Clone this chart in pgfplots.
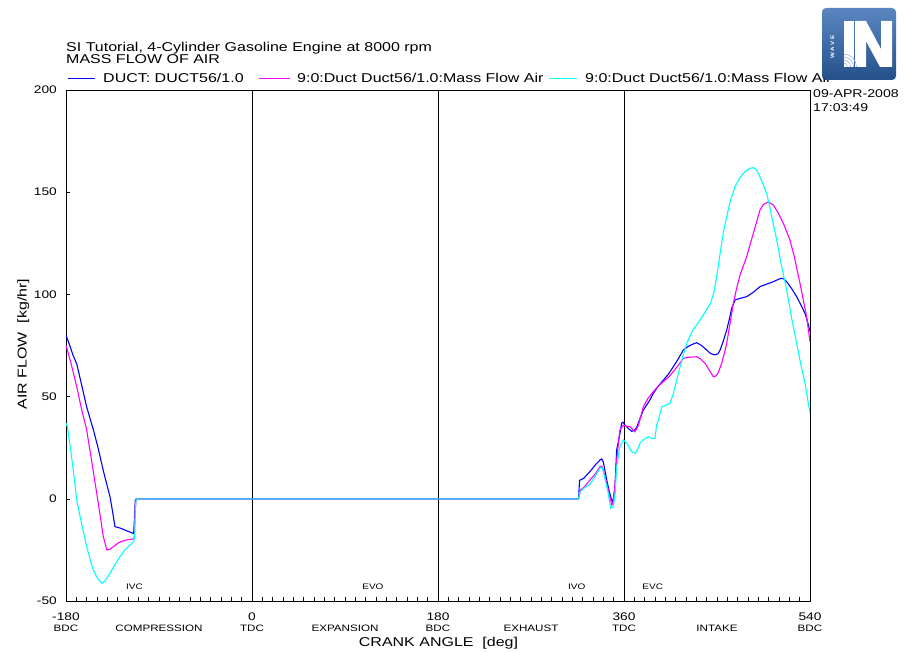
\documentclass[border=0pt]{standalone}
\usepackage{fontspec}
\setmainfont{Liberation Sans}[FakeStretch=1.25]
\usepackage{pgfplots}
\pgfplotsset{compat=1.18}
\newcommand\fA{\fontsize{12.8bp}{13bp}\selectfont}
\newcommand\fB{\fontsize{9.3bp}{10bp}\selectfont}
\newcommand\fC{\fontsize{11bp}{12bp}\selectfont}
\newcommand\fD{\fontsize{11.3bp}{12bp}\selectfont}
\newcommand\fE{\fontsize{8bp}{9bp}\selectfont}
\definecolor{logoTop}{HTML}{5A86C2}
\definecolor{logoBot}{HTML}{24508A}
\definecolor{cB}{RGB}{0,0,255}
\definecolor{cM}{RGB}{255,0,255}
\definecolor{cC}{RGB}{0,255,255}
\begin{document}
\begin{tikzpicture}
\useasboundingbox (-66bp,-52bp) rectangle (843bp,601bp);
\begin{axis}[
 at={(0,0)}, anchor=south west, scale only axis, width=744bp, height=511bp,
 xmin=-180, xmax=540, ymin=-50, ymax=200,
 xtick={-180,0,180,360,540}, xticklabels={-180,0,180,360,540},
 minor x tick num=17,
 ytick={-50,0,50,100,150,200}, yticklabels={-50,0,50,100,150,200},
 xtick pos=bottom, ytick pos=left, tick align=inside,
 major tick length=4bp, minor tick length=4bp,
 tick style={black, line width=0.6bp},
 axis line style={black, line width=0.8bp},
 xmajorgrids, major grid style={black, line width=0.8bp},
 xticklabel style={font=\fC, anchor=base, inner sep=0pt, yshift=-19bp},
 yticklabel style={font=\fC, anchor=east, inner sep=0pt, xshift=-9bp},
 every axis plot/.append style={line width=1.1bp},
]
\addplot[cB] coordinates {
(-180,80) (-177,76) (-173,70) (-169.6,66) (-165,56) (-160,45) (-156,38) (-153.6,34)
(-149,25) (-144,14) (-140,6) (-137.4,1) (-135,-6) (-132.6,-13.6) (-130,-14) (-127.7,-14.3)
(-122,-15.5) (-117,-16.5) (-114.5,-17) (-114,-12) (-113,-1) (-112,0)
(316,0) (317,9) (321,10) (327,13.3) (333,17) (336.8,19) (338.5,19.5) (340,18) (343.3,9.2)
(346,3) (348.1,-0.6) (349,-2) (350,1) (351.3,6) (352.9,24) (356.1,32) (357.7,37) (359,37.5)
(361,36) (364,34.5) (367.5,33) (370,33.5) (372.3,35) (378.7,43.4) (385,48.3) (388.4,51.6)
(393,55) (398,58) (403,61) (407.7,64.6) (412,68) (417.4,72.8) (422,74.5) (426,75.5)
(430.3,76.4) (435,75) (440,72.8) (444,71) (448,70.4) (451,71) (453,72.8) (456,77)
(459.4,82.6) (462,88) (464.2,93.2) (467.5,97.3) (472,98) (478.7,98.9) (485,101)
(491.6,103.8) (498,105) (504.5,106.2) (510,107.5) (512.6,107.9) (515,107.5) (517.4,106.2)
(522,103) (527.1,98.9) (531,95) (535.2,90.7) (538,86) (540,81.8)
};
\addplot[cM] coordinates {
(-180,75) (-178.7,72.8) (-175,66) (-169.6,54.8) (-165,44) (-160,33.7) (-155,18) (-150.3,2.8)
(-147,-8) (-143.9,-18.5) (-141.5,-23) (-140.6,-25) (-138,-24.8) (-134.2,-23.4) (-129,-21.5)
(-124.5,-20.5) (-120,-20) (-116.4,-19.8) (-114,-19.5) (-113,-5) (-112,0)
(316,0) (318,4.3) (322,6) (327.1,9.2) (332,12) (336.8,15.7) (338.5,16) (340,14) (342.5,9)
(344.8,4.3) (348.1,-3) (349.5,-1.5) (351,5) (352.9,19) (356,33.7) (359.4,36) (362,35.5)
(365.8,35.3) (370.6,32.8) (374,36) (378.7,45) (383,49) (388.4,52.4) (393,55) (398,57.3)
(403,59.5) (407.7,62.2) (412,65) (417.4,68.7) (422,69.2) (430.3,69.5) (434,68.5)
(438.4,66.3) (443,62.5) (446,60) (448,59.7) (451,61.5) (454.5,66.3) (457,71) (459.4,76)
(462,84) (465.8,95.6) (469,103) (472.3,109.5) (478.7,118.4) (485.2,129.9) (491.6,141.3)
(495,144) (499.7,145.3) (504.5,143.7) (509,140) (514.2,134.8) (520.6,126.6) (525,118)
(530.3,105.4) (536.7,89.1) (540,76.9)
};
\addplot[cC] coordinates {
(-180,37) (-178.7,35.3) (-175,22) (-172,10) (-169.6,-0.6) (-165,-12) (-160,-23.4) (-156,-31)
(-153.6,-34.8) (-150,-38.5) (-147,-40.5) (-145.5,-41.3) (-143,-40.5) (-140,-38.5)
(-137.4,-36.4) (-133,-32.5) (-127.7,-28.3) (-123,-25) (-118,-22.6) (-114.8,-21) (-113.5,-19)
(-113,-5) (-112,0)
(316,0) (317,3) (320.6,5) (327,7) (332,11) (336.8,15) (338.5,15.5) (340,13.3) (342.5,8)
(344.8,2.7) (347,-4.6) (349.7,-3.9) (351.5,3) (352.9,15.7) (356,25.5) (359.4,28.8)
(362.6,27.2) (365,25) (367.5,23) (371,22.3) (373,24) (375.5,27.2) (379,29) (383.6,30.4)
(387,29.5) (390,29.6) (391.5,36) (393.2,38.5) (396.5,45) (401.3,45.9) (404.5,46.7) (408,52)
(411,58) (416,68) (420.7,76) (426,82) (433.6,87.5) (438,91) (443.7,95.6) (447,101)
(449.7,108.7) (453,120) (456,130) (459.4,138) (463,146) (467.5,152.7) (472,157) (477,160)
(482,161.7) (485,162) (488.4,160.9) (492,157) (498.1,149.5) (503,138) (507.8,126.6)
(512,115) (517.4,102.2) (522,89) (527.1,76) (531,66) (535.2,56.5) (540,41.8)
};
\end{axis}
% titles
\node[anchor=base west, font=\fA, inner sep=0pt] at (0bp,549bp) {SI Tutorial, 4-Cylinder Gasoline Engine at 8000 rpm};
\node[anchor=base west, font=\fA, inner sep=0pt] at (0bp,537bp) {MASS FLOW OF AIR};
% legend
\draw[cB, line width=1.1bp] (2bp,522.5bp) -- (29bp,522.5bp);
\node[anchor=base west, font=\fA, inner sep=0pt] at (37bp,518bp) {DUCT: DUCT56/1.0};
\draw[cM, line width=1.1bp] (193bp,522.5bp) -- (224bp,522.5bp);
\node[anchor=base west, font=\fA, inner sep=0pt] at (231bp,518bp) {9:0:Duct Duct56/1.0:Mass Flow Air};
\draw[cC, line width=1.1bp] (483bp,522.5bp) -- (511bp,522.5bp);
\node[anchor=base west, font=\fA, inner sep=0pt] at (519bp,518bp) {9:0:Duct Duct56/1.0:Mass Flow Air};
% date
\node[anchor=base west, font=\fD, inner sep=0pt] at (747bp,503bp) {09-APR-2008};
\node[anchor=base west, font=\fD, inner sep=0pt] at (747bp,489bp) {17:03:49};
% axis labels
\node[rotate=90, anchor=base, font=\fA, inner sep=0pt] at (-39.3bp,257bp) {AIR FLOW\ \ [kg/hr]};
\node[anchor=base, font=\fA, inner sep=0pt] at (372.5bp,-45bp) {CRANK ANGLE\ \ [deg]};
% stroke labels
\foreach \xx/\tt in {0/BDC,186/TDC,372/BDC,558/TDC,744/BDC,93/COMPRESSION,279/EXPANSION,465/EXHAUST,651/INTAKE}
  \node[anchor=base, font=\fB, inner sep=0pt] at (\xx bp,-30.7bp) {\tt};
\foreach \xx/\tt in {68.5/IVC,306.9/EVO,510.7/IVO,586.7/EVC}
  \node[anchor=base, font=\fE, inner sep=0pt] at (\xx bp,11.7bp) {\tt};
% logo
\begin{scope}[shift={(756bp,521bp)}]
  \shade[top color=logoTop, bottom color=logoBot, rounded corners=4bp] (0bp,0bp) rectangle (74bp,72bp);
  \fill[white] (21.5bp,13bp) rectangle (31.5bp,59bp);
  \fill[white] (33bp,59bp) -- (44bp,59bp) -- (59bp,31bp) -- (59bp,59bp) -- (70bp,59bp)
     -- (70bp,13bp) -- (58bp,13bp) -- (44bp,39bp) -- (44bp,13bp) -- (33bp,13bp) -- cycle;
  \foreach \r in {4,7,10,13}
    \draw[logoTop!70!white, line width=0.5bp] (21.5bp,13bp) ++(0:\r bp) arc (0:90:\r bp);
  \node[rotate=90, text=white, font=\fontsize{5bp}{6bp}\selectfont\bfseries, inner sep=0pt] at (10.5bp,33bp) {W A V E};
\end{scope}
\end{tikzpicture}
\end{document}
